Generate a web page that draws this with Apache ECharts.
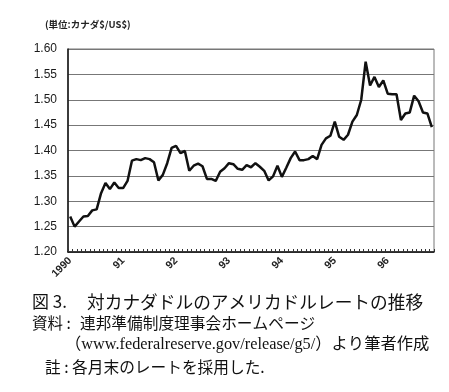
<!DOCTYPE html>
<html>
<head>
<meta charset="utf-8">
<script src="https://cdn.jsdelivr.net/npm/echarts@6/dist/echarts.min.js"></script>
<style>
html,body{margin:0;padding:0;background:#fff;}
#chart{width:449px;height:392px;}
</style>
</head>
<body>
<div id="chart"></div>
<script>
// Month-end CAD per USD, 1990 onwards
const months = [];
const yearLabels = ['1990', '91', '92', '93', '94', '95', '96'];
const rates = [
  1.270, 1.250, 1.260, 1.270, 1.271, 1.282, 1.284, 1.316, 1.336, 1.324, 1.337, 1.326,
  1.326, 1.340, 1.380, 1.383, 1.381, 1.385, 1.383, 1.377, 1.341, 1.352, 1.375, 1.405,
  1.409, 1.395, 1.399, 1.360, 1.370, 1.374, 1.369, 1.344, 1.344, 1.340, 1.358, 1.365,
  1.375, 1.373, 1.364, 1.362, 1.371, 1.367, 1.375, 1.368, 1.360, 1.341, 1.349, 1.370,
  1.348, 1.366, 1.385, 1.398, 1.381, 1.381, 1.383, 1.389, 1.383, 1.411, 1.424, 1.429,
  1.457, 1.427, 1.421, 1.431, 1.457, 1.470, 1.500, 1.575, 1.528, 1.545, 1.525, 1.538,
  1.512, 1.511, 1.511, 1.460, 1.473, 1.475, 1.508, 1.497, 1.475, 1.473, 1.446
];
for (let i = 0; i < rates.length; i++) {
  months.push(i % 12 === 0 ? yearLabels[i / 12] : '');
}
const yMin = 1.20, yMax = 1.60, yStep = 0.05;

const unitText = '(単位:カナダ$/US$)';
const captionFig = '図 3.';
const captionTitle = '対カナダドルのアメリカドルレートの推移';
const sourceHead = '資料 :';
const sourceBody = '連邦準備制度理事会ホームページ';
const sourceUrl = '（www.federalreserve.gov/release/g5/）より筆者作成';
const noteText = '註 : 各月末のレートを採用した.';

const chart = echarts.init(document.getElementById('chart'), null, {renderer: 'canvas'});
const CJK = '"Noto Sans CJK JP"';
chart.setOption({
  animation: false,
  backgroundColor: '#fff',
  grid: {left: 68, right: 15, top: 49, bottom: 140, show: true, borderColor: '#777', borderWidth: 1, backgroundColor: 'transparent'},
  xAxis: {
    type: 'category',
    data: months,
    boundaryGap: true,
    axisLine: {lineStyle: {color: '#111', width: 1.5}},
    axisTick: {show: true, inside: true, interval: 0, length: 3, lineStyle: {color: '#333'}},
    axisLabel: {
      interval: 0, rotate: 45, margin: 7,
      fontFamily: '"Liberation Sans", Arial', fontSize: 10.5, fontWeight: 'bold', color: '#222'
    },
    splitLine: {show: false}
  },
  yAxis: {
    type: 'value', min: yMin, max: yMax, interval: yStep,
    axisLine: {show: true, lineStyle: {color: '#111', width: 1.5}},
    axisTick: {show: false},
    axisLabel: {
      margin: 11, formatter: v => v.toFixed(2),
      fontFamily: '"Liberation Sans", Arial', fontSize: 12, color: '#1a1a1a'
    },
    splitLine: {lineStyle: {color: '#777', width: 1}}
  },
  series: [{
    type: 'line', data: rates, showSymbol: false, symbol: 'none',
    lineStyle: {color: '#111', width: 2.5}
  }],
  graphic: [
    {type: 'text', x: 45, y: 24, style: {text: unitText, font: 'bold 9.5px ' + CJK, fill: '#222', verticalAlign: 'middle'}},
    {type: 'text', x: 32, y: 302, style: {text: captionFig, font: '17px ' + CJK, fill: '#111', verticalAlign: 'middle'}},
    {type: 'text', x: 87, y: 302, style: {text: captionTitle, font: '17.7px ' + CJK, fill: '#111', verticalAlign: 'middle'}},
    {type: 'text', x: 32, y: 323, style: {text: sourceHead, font: '15.5px ' + CJK, fill: '#111', verticalAlign: 'middle'}},
    {type: 'text', x: 80, y: 323, style: {text: sourceBody, font: '15.7px ' + CJK, fill: '#111', verticalAlign: 'middle'}},
    {type: 'text', x: 65, y: 345, style: {text: sourceUrl, font: '16.3px "Liberation Serif", ' + CJK, fill: '#111', verticalAlign: 'middle'}},
    {type: 'text', x: 45, y: 367, style: {text: noteText, font: '15.7px ' + CJK, fill: '#111', verticalAlign: 'middle'}}
  ]
});
</script>
</body>
</html>
